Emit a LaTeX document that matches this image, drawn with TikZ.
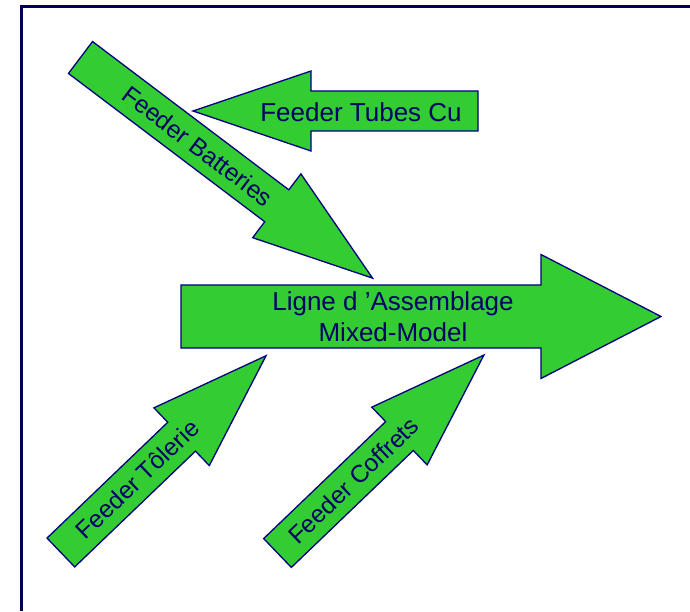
\documentclass[tikz,border=0pt]{standalone}
\usepackage{fontspec}
\setmainfont{Liberation Sans}
\usetikzlibrary{calc}
\definecolor{arrgreen}{HTML}{33CC33}
\definecolor{arrline}{HTML}{000080}
\definecolor{txtnavy}{HTML}{000066}
\definecolor{framenavy}{HTML}{000055}
\tikzset{
  blockarr/.style={fill=arrgreen, draw=arrline, line width=1.3pt, line join=miter},
  lbl/.style={text=txtnavy, font=\fontsize{26}{30.7}\selectfont, inner sep=0pt},
  rlbl/.style={lbl, font=\fontsize{24.5}{29}\selectfont},
  framestyle/.style={draw=framenavy, line width=3pt},
}
% #1 x, #2 y, #3 angle, #4 total length, #5 shaft half width, #6 head length, #7 head half width
\newcommand{\blockarrow}[7]{%
  \begin{scope}[shift={(#1,#2)}, rotate=#3]
    \path[blockarr] (0,-#5) -- ({#4-#6},-#5) -- ({#4-#6},-#7) -- (#4,0)
      -- ({#4-#6},#7) -- ({#4-#6},#5) -- (0,#5) -- cycle;
  \end{scope}}
\begin{document}
\begin{tikzpicture}[x=1pt,y=1pt]
\useasboundingbox[fill=white] (0,0) rectangle (690,611);
% frame
\coordinate (frameBL) at (21,0);
\coordinate (frameTL) at (21,604);
\coordinate (frameTR) at (690,604);
\draw[framestyle] (frameBL) -- (frameTL) -- (frameTR);
% tails
\coordinate (mainTail) at (181,294.5);
\coordinate (tubTail) at (478,500);
\coordinate (batTail) at (80.5,553.5);
\coordinate (tolTail) at (60.85,58.5);
\coordinate (cofTail) at (277.5,58);
% arrows
\blockarrow{80.5}{553.5}{-37.07}{366}{20}{120}{40}
\blockarrow{478}{500}{180}{285}{20}{118}{40}
\blockarrow{60.85}{58.5}{43.8}{284.3}{20}{117}{40}
\blockarrow{277.5}{58}{43.8}{286}{20}{117}{40}
\blockarrow{181}{294.5}{0}{480}{31.5}{120}{62}
% labels
\node[lbl, align=center] (mainLbl) at (393,294) {Ligne d ’Assemblage\\Mixed-Model};
\node[lbl] (tubLbl) at (361,498.5) {Feeder Tubes Cu};
\node[rlbl, rotate=-37.07] (batLbl) at ($(batTail)+(-37.07:147)$) {Feeder Batteries};
\node[rlbl, rotate=43.8] (tolLbl) at ($(tolTail)+(43.8:106)$) {Feeder Tôlerie};
\node[rlbl, rotate=43.8] (cofLbl) at ($(cofTail)+(43.8:105)$) {Feeder Coffrets};
\end{tikzpicture}
\end{document}
